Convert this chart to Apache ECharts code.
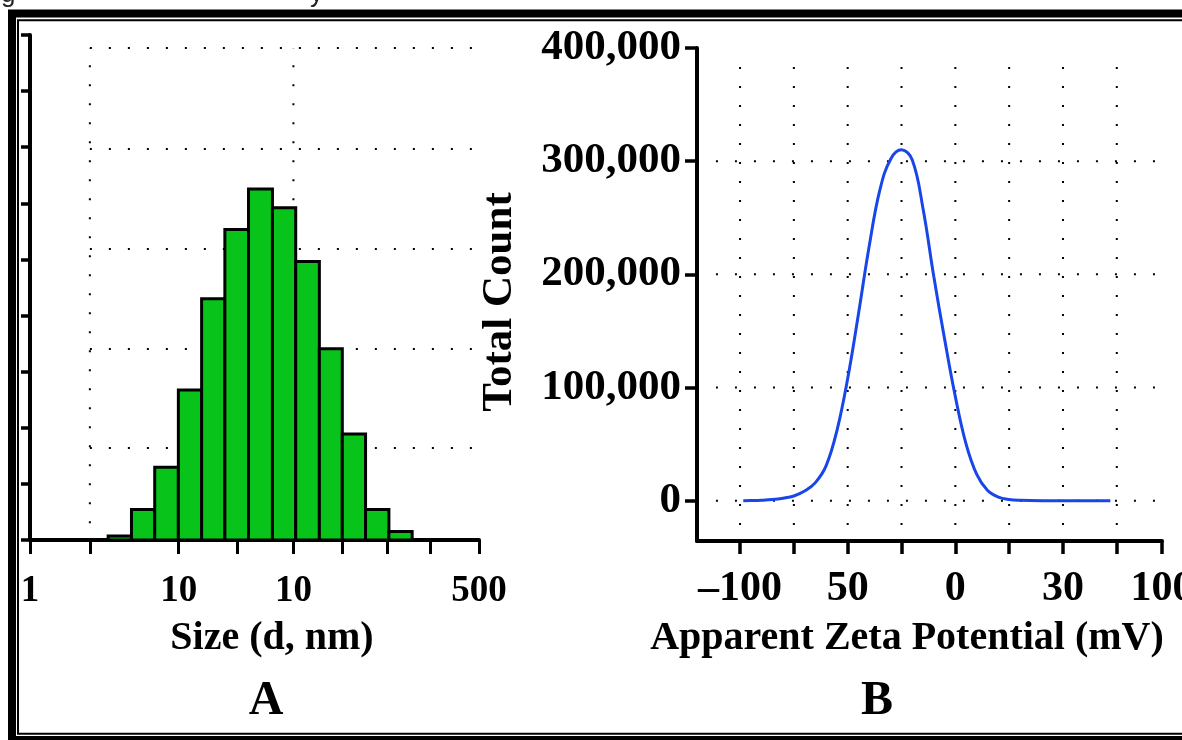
<!DOCTYPE html>
<html>
<head>
<meta charset="utf-8">
<title>Size distribution and zeta potential</title>
<script src="https://cdn.jsdelivr.net/npm/echarts@6/dist/echarts.min.js"></script>
<style>
  html, body { margin: 0; padding: 0; background: #fff; }
  #chart { width: 1182px; height: 740px; }
</style>
</head>
<body>
<div id="chart"></div>
<script>
// panel A - size histogram (x in axis position units, y in intensity units)
const sizeBinEdges = [78.3, 101.7, 125, 148.7, 172, 195.3, 219, 243, 266.3, 290, 313, 336.3, 359.7, 383];
const sizeIntensity = [0.14, 1.09, 2.59, 5.35, 8.6, 11.07, 12.51, 11.84, 9.93, 6.82, 3.78, 1.09, 0.3];
const sizeTicks = [0, 60, 149, 208, 264, 313, 358, 401, 450];
const sizeLabelValues = [0, 149, 264, 450];
const sizeLabels = ['1', '10', '10', '500'];
const sizeGridX = [60, 264];
const sizeGridY = [3.28, 6.81, 10.37, 13.94, 17.54];

// panel B - zeta potential distribution
const zetaX = [-98.5, -95, -90, -85, -80, -75, -70, -65, -60, -55, -50, -45, -40, -35, -30, -25,
  -20, -15, -10, -5, 0, 5, 10, 15, 20, 25, 30, 40, 50, 60, 72];
const zetaCount = [0, 100, 400, 1000, 2200, 4200, 8500, 16000, 31000, 62000, 108000, 165000, 225000, 275000, 302000, 310000,
  301000, 258000, 198000, 143000, 92000, 50000, 23000, 9000, 3200, 1000, 300, 0, 0, 0, 0];
const zetaTicks = [-100, -75, -50, -25, 0, 25, 50, 75, 96];
const zetaLabelValues = [-100, -50, 0, 50, 96];
const zetaLabels = ['\u2013100', '50', '0', '30', '100'];
const countTicks = [0, 100000, 200000, 300000, 400000];
const zetaGridX = [-100, -75, -50, -25, 0, 25, 50, 75];
const zetaGridY = [0, 100000, 200000, 300000];

const serif = 'Liberation Serif, Times New Roman, serif';
const black = '#000';

const chart = echarts.init(document.getElementById('chart'));

// dotted grid segments [x0, y0, x1, y1]
const sizeGridSegs = [
  ...sizeGridX.map(x => [x, 0.6, x, 17.54]),
  ...sizeGridY.map(y => [60, y, 450, y])
];
const zetaGridSegs = [
  ...zetaGridX.map(x => [x, -21500, x, 398000]),
  ...zetaGridY.map(y => [-111.2, y, 95.3, y])
];

function dotted(segs, axisIdx) {
  return {
    type: 'custom',
    xAxisIndex: axisIdx,
    yAxisIndex: axisIdx,
    silent: true,
    clip: false,
    z: 1,
    data: segs,
    renderItem: (params, api) => {
      const a = api.coord([api.value(0), api.value(1)]);
      const b = api.coord([api.value(2), api.value(3)]);
      return {
        type: 'line',
        shape: { x1: a[0], y1: a[1], x2: b[0], y2: b[1] },
        style: { stroke: '#000', lineWidth: 2, lineDash: [2, 17] }
      };
    }
  };
}

function axisLine(w) {
  return { show: true, onZero: false, lineStyle: { color: black, width: w } };
}

const option = {
  animation: false,
  backgroundColor: '#fff',
  grid: [
    { left: 30, top: 35, width: 449, height: 505, outerBoundsMode: 'none', containLabel: false },
    { left: 697, top: 48, width: 465, height: 493, outerBoundsMode: 'none', containLabel: false }
  ],
  xAxis: [
    {
      type: 'value', gridIndex: 0, min: 0, max: 450,
      axisLine: axisLine(4),
      axisTick: { show: true, length: 14, customValues: sizeTicks, lineStyle: { color: black, width: 3 } },
      axisLabel: {
        customValues: sizeLabelValues, margin: 33,
        color: black, fontFamily: serif, fontWeight: 'bold', fontSize: 37,
        formatter: v => sizeLabels[sizeLabelValues.indexOf(v)]
      },
      splitLine: { show: false }
    },
    {
      type: 'value', gridIndex: 1, min: -120, max: 96,
      axisLine: axisLine(4),
      axisTick: { show: true, length: 13, customValues: zetaTicks, lineStyle: { color: black, width: 3.5 } },
      axisLabel: {
        customValues: zetaLabelValues, margin: 27,
        color: black, fontFamily: serif, fontWeight: 'bold', fontSize: 42,
        formatter: v => zetaLabels[zetaLabelValues.indexOf(v)]
      },
      splitLine: { show: false }
    }
  ],
  yAxis: [
    {
      type: 'value', gridIndex: 0, min: 0, max: 18, interval: 2,
      axisLine: axisLine(4),
      axisTick: { show: true, length: 9, lineStyle: { color: black, width: 3.5 } },
      axisLabel: { show: false },
      splitLine: { show: false }
    },
    {
      type: 'value', gridIndex: 1, min: -35600, max: 400000,
      axisLine: axisLine(4),
      axisTick: { show: true, length: 12, customValues: countTicks, lineStyle: { color: black, width: 3.5 } },
      axisLabel: {
        customValues: countTicks, margin: 16,
        color: black, fontFamily: serif, fontWeight: 'bold', fontSize: 43,
        formatter: v => v.toLocaleString('en-US')
      },
      splitLine: { show: false }
    }
  ],
  series: [
    dotted(sizeGridSegs, 0),
    dotted(zetaGridSegs, 1),
    {
      type: 'custom',
      xAxisIndex: 0,
      yAxisIndex: 0,
      z: 2,
      data: sizeIntensity.map((h, i) => [sizeBinEdges[i], sizeBinEdges[i + 1], h]),
      renderItem: (params, api) => {
        const base = api.coord([api.value(0), 0]);
        const top = api.coord([api.value(1), api.value(2)]);
        return {
          type: 'rect',
          shape: { x: base[0], y: top[1], width: top[0] - base[0], height: base[1] - top[1] },
          style: { fill: '#08c41a', stroke: black, lineWidth: 3 }
        };
      }
    },
    {
      type: 'line',
      xAxisIndex: 1,
      yAxisIndex: 1,
      z: 3,
      smooth: 0.4,
      showSymbol: false,
      data: zetaX.map((x, i) => [x, zetaCount[i]]),
      lineStyle: { color: '#1846e8', width: 3 }
    }
  ],
  graphic: [
    // double frame
    { type: 'rect', silent: true, z: 10, shape: { x: 12, y: 13.5, width: 1200, height: 726.5 },
      style: { fill: 'none', stroke: black, lineWidth: 8 } },
    { type: 'rect', silent: true, z: 10, shape: { x: 18, y: 20.3, width: 1200, height: 713.5 },
      style: { fill: 'none', stroke: black, lineWidth: 2 } },
    // clipped caption descenders above the frame
    { type: 'text', x: 1, y: 8, style: { text: 'g', font: '26px Liberation Sans', fill: '#222', verticalAlign: 'bottom' } },
    { type: 'text', x: 310, y: 8, style: { text: 'y', font: '26px Liberation Sans', fill: '#222', verticalAlign: 'bottom' } },
    // axis titles and panel letters
    { type: 'text', x: 272, y: 639, style: { text: 'Size (d, nm)', font: 'bold 40px ' + serif, fill: black, align: 'center', verticalAlign: 'middle' } },
    { type: 'text', x: 266, y: 702, style: { text: 'A', font: 'bold 48px ' + serif, fill: black, align: 'center', verticalAlign: 'middle' } },
    { type: 'text', x: 907, y: 639, style: { text: 'Apparent Zeta Potential (mV)', font: 'bold 40px ' + serif, fill: black, align: 'center', verticalAlign: 'middle' } },
    { type: 'text', x: 877, y: 702, style: { text: 'B', font: 'bold 48px ' + serif, fill: black, align: 'center', verticalAlign: 'middle' } },
    { type: 'text', x: 500, y: 302, rotation: Math.PI / 2, style: { text: 'Total Count', font: 'bold 43px ' + serif, fill: black, align: 'center', verticalAlign: 'middle' } }
  ]
};

chart.setOption(option);
</script>
</body>
</html>
